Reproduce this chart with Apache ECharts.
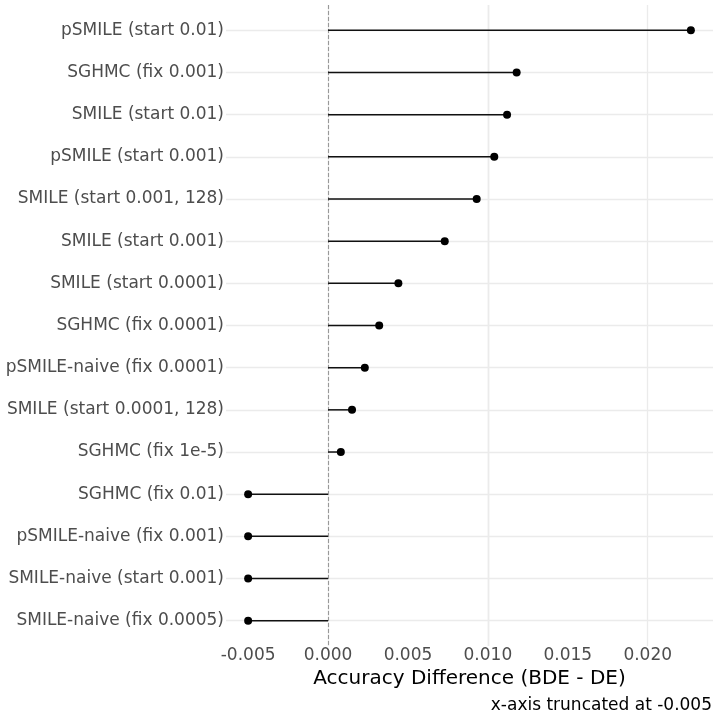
<!DOCTYPE html>
<html>
<head>
<meta charset="utf-8">
<script src="https://cdn.jsdelivr.net/npm/echarts@6/dist/echarts.min.js"></script>
<style>html,body{margin:0;padding:0;background:#fff;}#c{width:718px;height:718px;}</style>
</head>
<body>
<div id="c"></div>
<script>
const categories = [
  'pSMILE (start 0.01)', 'SGHMC (fix 0.001)', 'SMILE (start 0.01)', 'pSMILE (start 0.001)',
  'SMILE (start 0.001, 128)', 'SMILE (start 0.001)', 'SMILE (start 0.0001)', 'SGHMC (fix 0.0001)',
  'pSMILE-naive (fix 0.0001)', 'SMILE (start 0.0001, 128)', 'SGHMC (fix 1e-5)', 'SGHMC (fix 0.01)',
  'pSMILE-naive (fix 0.001)', 'SMILE-naive (start 0.001)', 'SMILE-naive (fix 0.0005)'
];
const values = [0.0227, 0.0118, 0.0112, 0.0104, 0.0093, 0.0073, 0.0044, 0.0032, 0.0023, 0.0015, 0.0008,
  -0.005, -0.005, -0.005, -0.005];
const majorTicks = [-0.005, 0.000, 0.005, 0.010, 0.015, 0.020];
const minorTicks = [-0.0025, 0.0025, 0.0075, 0.0125, 0.0175, 0.0225];
const xTitle = 'Accuracy Difference (BDE - DE)';
const caption = 'x-axis truncated at -0.005';

const idx = categories.map((c, i) => i);
const FONT = 'DejaVu Sans';
const chart = echarts.init(document.getElementById('c'), null, {renderer: 'canvas'});

const xMin = -0.005 - 0.05 * (0.0227 + 0.005);
const xMax = 0.0227 + 0.05 * (0.0227 + 0.005);

chart.setOption({
  animation: false,
  backgroundColor: '#ffffff',
  grid: {left: 226, right: 5, top: 5, bottom: 72, containLabel: false},
  xAxis: {
    type: 'value', min: xMin, max: xMax,
    axisLine: {show: false}, axisTick: {show: false}, splitLine: {show: false},
    axisLabel: {
      customValues: majorTicks,
      color: '#4d4d4d', fontFamily: FONT, fontSize: 17, margin: 1,
      formatter: v => v.toFixed(3)
    },
    name: xTitle, nameLocation: 'middle', nameGap: 21,
    nameTextStyle: {color: '#000', fontFamily: FONT, fontSize: 20, verticalAlign: 'top'}
  },
  yAxis: {
    type: 'value', inverse: true, min: -0.6, max: 14.6,
    axisLine: {show: false}, axisTick: {show: false}, splitLine: {show: false},
    axisLabel: {
      customValues: idx,
      color: '#4d4d4d', fontFamily: FONT, fontSize: 17, margin: 2,
      formatter: v => categories[Math.round(v)] || ''
    }
  },
  graphic: [{
    type: 'text', right: 6, bottom: 4,
    style: {text: caption, fill: '#000', font: '17px "DejaVu Sans"', textAlign: 'right'}
  }],
  series: [
    {
      type: 'line', data: [], z: 1, silent: true,
      markLine: {
        z: 1, silent: true, symbol: 'none', label: {show: false}, animation: false,
        data: [
          ...minorTicks.map(v => ({xAxis: v, lineStyle: {color: '#f3f3f3', width: 0.8, type: 'solid'}})),
          ...majorTicks.map(v => ({xAxis: v, lineStyle: {color: '#ebebeb', width: 1.3, type: 'solid'}})),
          ...idx.map(i => ({yAxis: i, lineStyle: {color: '#ebebeb', width: 1.3, type: 'solid'}}))
        ]
      }
    },
    {
      type: 'line', data: [], z: 2, silent: true,
      markLine: {
        z: 2, silent: true, symbol: 'none', label: {show: false}, animation: false,
        data: [{xAxis: 0, lineStyle: {color: '#999999', width: 1.1, type: [4, 2]}}]
      }
    },
    {
      type: 'custom', z: 3,
      data: values.map((v, i) => [v, i]),
      renderItem: function (params, api) {
        const p0 = api.coord([0, api.value(1)]);
        const p1 = api.coord([api.value(0), api.value(1)]);
        return {
          type: 'line',
          shape: {x1: p0[0], y1: p0[1], x2: p1[0], y2: p1[1]},
          style: {stroke: '#111', lineWidth: 1.5}
        };
      }
    },
    {
      type: 'scatter', z: 4,
      data: values.map((v, i) => [v, i]),
      symbol: 'circle', symbolSize: 8,
      itemStyle: {color: '#000', opacity: 1}
    }
  ]
});
</script>
</body>
</html>
